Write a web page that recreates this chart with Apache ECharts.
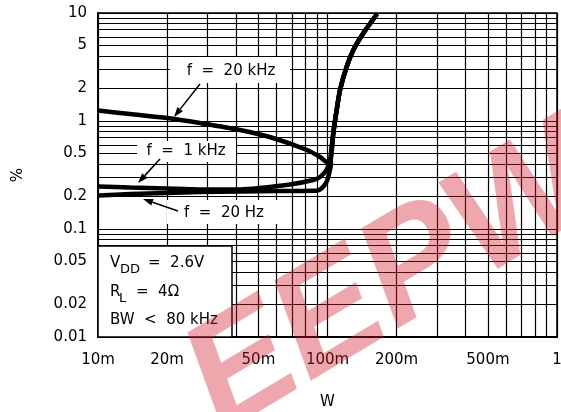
<!DOCTYPE html>
<html><head><meta charset="utf-8">
<script src="https://cdn.jsdelivr.net/npm/echarts@6/dist/echarts.min.js"></script>
<style>html,body{margin:0;padding:0;background:#fff}#c{width:561px;height:412px}</style>
</head><body><div id="c"></div>
<script>
// ---- axis ticks / labels ----
const xGridValues = [0.01,0.02,0.03,0.04,0.05,0.06,0.07,0.08,0.09,0.1,0.2,0.3,0.4,0.5,0.6,0.7,0.8,0.9,1];
const xLabelValues = [0.01,0.02,0.05,0.1,0.2,0.5,1];
const xLabelTexts = ['10m','20m','50m','100m','200m','500m','1'];
const yGridValues = [0.01,0.02,0.03,0.04,0.05,0.06,0.07,0.08,0.09,0.1,0.2,0.3,0.4,0.5,0.6,0.7,0.8,0.9,1,2,3,4,5,6,7,8,9,10];
const yLabelValues = [0.01,0.02,0.05,0.1,0.2,0.5,1,2,5,10];
const yLabelTexts = ['0.01','0.02','0.05','0.1','0.2','0.5','1','2','5','10'];

// ---- series values [W, %] ----
const f20kHz = [[0.01,1.25],[0.0138,1.16],[0.02,1.066],[0.0278,0.958],[0.0416,0.826],[0.0579,0.696],[0.0814,0.539],[0.0928,0.464],[0.0995,0.417]];
const f1kHz = [[0.01,0.2475],[0.0138,0.2424],[0.02,0.2371],[0.0278,0.2321],[0.0416,0.2321],[0.0508,0.2397],[0.0687,0.2583],[0.0865,0.2843],[0.0928,0.303],[0.099,0.3518],[0.1015,0.4085]];
const f20Hz = [[0.01,0.2043],[0.0138,0.211],[0.02,0.2154],[0.0278,0.2201],[0.0416,0.2225],[0.0621,0.2249],[0.0896,0.2259],[0.0941,0.2371],[0.099,0.2724],[0.102,0.3372],[0.1036,0.4085]];
const commonRise = [[0.1031,0.4355],[0.106,0.77],[0.1096,1.26],[0.1134,1.94],[0.1212,3.18],[0.1296,4.54],[0.1432,6.49],[0.1644,9.79]];

const FONT = 'DejaVu Sans';
function near(a,b){return Math.abs(Math.log10(a)-Math.log10(b))<1e-6;}
function fmt(vals, texts){return function(v){for(let i=0;i<vals.length;i++){if(near(v,vals[i]))return texts[i];}return '';};}

function arrow(x1,y1,x2,y2){
  const dx=x2-x1, dy=y2-y1, L=Math.sqrt(dx*dx+dy*dy), ux=dx/L, uy=dy/L;
  const hl=10, hw=3.5;
  const bx=x2-ux*hl, by=y2-uy*hl;
  return [
    {type:'line', z:50, shape:{x1:x1,y1:y1,x2:bx,y2:by}, style:{stroke:'#000', lineWidth:1.5}},
    {type:'polygon', z:50, shape:{points:[[x2,y2],[bx-uy*hw,by+ux*hw],[bx+uy*hw,by-ux*hw]]}, style:{fill:'#000'}}
  ];
}
function txt(x,y,t,size,align){
  return {type:'text', z:51, x:x, y:y, style:{text:t, font:(size||15)+'px "'+FONT+'"', fill:'#000', align:align||'left', verticalAlign:'middle'}};
}
function box(x,y,w,h,border){
  return {type:'rect', z:49, shape:{x:x,y:y,width:w,height:h}, style:{fill:'#fff', stroke:border?'#000':null, lineWidth:border?1.5:0}};
}

const graphics = [].concat(
  [box(170,57,120,26), txt(231,71,'f  =  20 kHz',15,'center')],
  arrow(200,84,174,117),
  [box(137,141,99,21), txt(186,151,'f  =  1 kHz',15,'center')],
  arrow(160,159,138,183),
  [box(167,200,111,24), txt(224,213,'f  =  20 Hz',15,'center')],
  arrow(178,211,143,199),
  [box(98,246,134,91,true),
   txt(110,263,'V'), txt(120,270,'DD',13), txt(148,263,'=  2.6V'),
   txt(110,292,'R'), txt(119,299,'L',13), txt(136,292,'=  4Ω'),
   txt(110,320,'BW  <  80 kHz')],
  [{type:'text', z:100, x:392, y:283, rotation:0.54,
    style:{text:'EEPW', font:'italic bold 152px "Liberation Sans"', fill:'rgba(210,25,40,0.38)', align:'center', verticalAlign:'middle'}}]
);

const lineStyle = {color:'#000', width:4.5};
const chart = echarts.init(document.getElementById('c'), null, {renderer:'canvas'});
chart.setOption({
  animation:false,
  backgroundColor:'#fff',
  grid:{left:98, top:13, right:4, bottom:75, containLabel:false, outerBoundsMode:'none', show:true, borderColor:'#000', borderWidth:1.5, backgroundColor:'transparent'},
  xAxis:{type:'log', logBase:10, min:0.01, max:1,
    name:'W', nameLocation:'middle', nameGap:58, nameTextStyle:{fontFamily:FONT, fontSize:15, color:'#000'},
    axisLine:{show:true, lineStyle:{color:'#000', width:2}},
    axisTick:{show:false, customValues:xGridValues},
    axisLabel:{customValues:xLabelValues, formatter:fmt(xLabelValues,xLabelTexts), fontFamily:FONT, fontSize:15, color:'#000', margin:16},
    splitLine:{show:true, lineStyle:{color:'#000', width:1.2}},
    minorTick:{show:false}, minorSplitLine:{show:false}},
  yAxis:{type:'log', logBase:10, min:0.01, max:10,
    name:'%', nameLocation:'middle', nameGap:72, nameRotate:90, nameTextStyle:{fontFamily:FONT, fontSize:15, color:'#000'},
    axisLine:{show:true, lineStyle:{color:'#000', width:2}},
    axisTick:{show:false, customValues:yGridValues},
    axisLabel:{customValues:yLabelValues, formatter:fmt(yLabelValues,yLabelTexts), fontFamily:FONT, fontSize:15, color:'#000', margin:11},
    splitLine:{show:true, lineStyle:{color:'#000', width:1.2}}},
  series:[
    {type:'line', name:'f = 20 kHz', data:f20kHz.concat(commonRise), showSymbol:false, smooth:0.25, lineStyle:lineStyle, z:10},
    {type:'line', name:'f = 1 kHz', data:f1kHz.concat(commonRise), showSymbol:false, smooth:0.25, lineStyle:lineStyle, z:10},
    {type:'line', name:'f = 20 Hz', data:f20Hz.concat(commonRise), showSymbol:false, smooth:0.25, lineStyle:lineStyle, z:10}
  ],
  graphic:graphics
});
</script></body></html>
